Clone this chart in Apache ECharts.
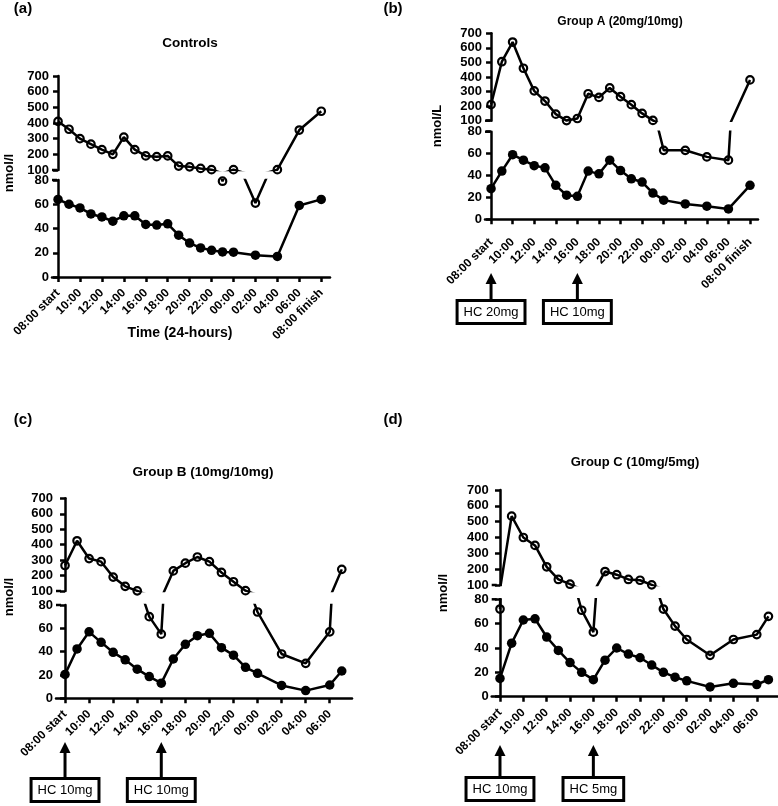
<!DOCTYPE html>
<html><head><meta charset="utf-8">
<script src="https://cdn.jsdelivr.net/npm/echarts@6/dist/echarts.min.js"></script>
<style>html,body{margin:0;padding:0;background:#fff}#c{width:778px;height:806px}</style>
</head><body><div id="c"></div>
<script>
// ---- data ----
const hoursAB = [0,1,2,3,4,5,6,7,8,9,10,11,12,13,14,15,16,18,20,22,24];
const hoursCD = [0,1,2,3,4,5,6,7,8,9,10,11,12,13,14,15,16,18,20,22,23];
const ticksAB = [0,2,4,6,8,10,12,14,16,18,20,22,24];
const ticksCD = [0,2,4,6,8,10,12,14,16,18,20,22];

const controlsOpen   = [410,360,300,265,230,200,310,230,190,185,190,125,120,110,102,79,102,61,102,355,475];
const controlsFilled = [64,60,57,52,49.5,46,50.5,50.5,43.3,42.8,43.9,34.5,28,24,22,20.7,20.5,18,17,59,64];
const groupAOpen     = [210,505,640,460,305,235,145,101,115,285,260,325,265,210,150,102,63,63,57,54,380];
const groupAFilled   = [28,44,59,54,49,47,31,22,21,44,41.5,54,44.5,37,34,24,17.5,14,12,9.5,31];
const groupBOpen     = [265,425,310,290,190,130,101,70,55,230,280,320,290,220,160,102,74,38,30,57,240];
const groupBFilled   = [20.5,42.3,57,48,39.4,33,25,18.6,13,33.7,46.3,53.7,55.7,43.4,37,26.6,21.4,11,6.6,11.4,23.4];
const groupCOpen     = [72,535,400,350,215,135,105,71,53,185,165,135,130,101,72,58,47,34,47,51,66];
const groupCFilled   = [15,44,63,64,49,38,28,20,14,30,40,35,32,26,20,16,13,8,11,10,14];

const titles = ['Controls','Group A (20mg/10mg)','Group B (10mg/10mg)','Group C (10mg/5mg)'];
const panelLabels = ['(a)','(b)','(c)','(d)'];
const yNames = ['nmol/l','nmol/L','nmol/l','nmol/l'];
const xName = 'Time (24-hours)';
const doseHoursA = [0, 8], doseLabelsA = ['HC 20mg','HC 10mg'];
const doseHoursB = [0, 8], doseLabelsB = ['HC 10mg','HC 10mg'];
const doseHoursC = [0, 8], doseLabelsC = ['HC 10mg','HC 5mg'];
const upperRange = [100, 700, 100];
const lowerRange = [0, 80, 20];

// ---- layout (pixels) ----
const FONT = '"Liberation Sans", Arial, Helvetica, sans-serif';
const panels = [
  {hours:hoursAB, ticks:ticksAB, open:controlsOpen, filled:controlsFilled,
   left:52, right:330, upTop:76, upBot:170, loTop:180, loBot:277, xmin:-0.55, xmax:24.8, margin:14,
   title:[190,43,13.5], label:[23,9], yname:[9,173], doses:null},
  {hours:hoursAB, ticks:ticksAB, open:groupAOpen, filled:groupAFilled,
   left:485, right:758, upTop:33.3, upBot:120.7, loTop:131.7, loBot:219.3, xmin:-0.56, xmax:24.74, margin:21,
   title:[620,22,12], label:[393,9], yname:[437,126], doses:[doseHoursA, doseLabelsA, 273, 302]},
  {hours:hoursCD, ticks:ticksCD, open:groupBOpen, filled:groupBFilled,
   left:56, right:352, upTop:498.3, upBot:591, loTop:605, loBot:698.3, xmin:-0.75, xmax:23.85, margin:14,
   title:[203,472,13.5], label:[23,420], yname:[9,597], doses:[doseHoursB, doseLabelsB, 742, 780]},
  {hours:hoursCD, ticks:ticksCD, open:groupCOpen, filled:groupCFilled,
   left:491.7, right:778, upTop:490, upBot:585, loTop:599.3, loBot:696.7, xmin:-0.71, xmax:23.82, margin:14,
   title:[635,462,13], label:[393,420], yname:[443,593], doses:[doseHoursC, doseLabelsC, 745, 779]}
];

function hourLabel(h){
  if (h === 0) return '08:00 start';
  if (h === 24) return '08:00 finish';
  const t = (8 + h) % 24;
  return (t < 10 ? '0' : '') + t + ':00';
}

const axLine = {show:true, lineStyle:{color:'#000', width:2.5}};
const axTick = {show:true, length:5, lineStyle:{color:'#000', width:2.5}};
const yLab = {margin:3, color:'#000', fontFamily:FONT, fontWeight:'bold', fontSize:13};
const grids = [], xAxes = [], yAxes = [], series = [];

panels.forEach((p, i) => {
  const w = p.right - p.left;
  grids.push({left:p.left, top:p.upTop, width:w, height:p.upBot - p.upTop});
  grids.push({left:p.left, top:p.loTop, width:w, height:p.loBot - p.loTop});
  xAxes.push({type:'value', gridIndex:2*i, min:p.xmin, max:p.xmax, show:false});
  xAxes.push({type:'value', gridIndex:2*i+1, min:p.xmin, max:p.xmax,
    axisLine:axLine, splitLine:{show:false},
    axisTick:Object.assign({customValues:p.ticks}, axTick),
    axisLabel:{customValues:p.ticks, rotate:45, margin:p.margin, color:'#000',
      fontFamily:FONT, fontWeight:'bold', fontSize:12, formatter:hourLabel}
  });
  yAxes.push({type:'value', gridIndex:2*i, min:upperRange[0], max:upperRange[1], interval:upperRange[2],
    axisLine:axLine, axisTick:axTick, splitLine:{show:false}, axisLabel:yLab});
  yAxes.push({type:'value', gridIndex:2*i+1, min:lowerRange[0], max:lowerRange[1], interval:lowerRange[2],
    axisLine:axLine, axisTick:axTick, splitLine:{show:false}, axisLabel:yLab});
  [2*i, 2*i+1].forEach(g => {
    series.push({type:'line', xAxisIndex:g, yAxisIndex:g, clip:true, animation:false, silent:true,
      data:p.hours.map((h,k)=>[h, p.open[k]]), symbol:'circle', symbolSize:7.5, showSymbol:true,
      lineStyle:{color:'#000', width:2.5},
      itemStyle:{color:'rgba(255,255,255,0)', borderColor:'#000', borderWidth:2.2},
      emphasis:{disabled:true}, z:3});
    series.push({type:'line', xAxisIndex:g, yAxisIndex:g, clip:true, animation:false, silent:true,
      data:p.hours.map((h,k)=>[h, p.filled[k]]), symbol:'circle', symbolSize:9.5, showSymbol:true,
      lineStyle:{color:'#000', width:2.5},
      itemStyle:{color:'#000'}, emphasis:{disabled:true}, z:3});
  });
});

const chart = echarts.init(document.getElementById('c'), null, {renderer:'canvas'});
chart.setOption({animation:false, backgroundColor:'#fff', grid:grids, xAxis:xAxes, yAxis:yAxes, series:series});

// ---- text and annotations ----
const g = [];
panels.forEach((p, i) => {
  g.push({type:'text', x:p.title[0], y:p.title[1], style:{text:titles[i], fill:'#000',
    font:'bold ' + p.title[2] + 'px ' + FONT, textAlign:'center', textVerticalAlign:'middle'}});
  g.push({type:'text', x:p.label[0], y:p.label[1], style:{text:panelLabels[i], fill:'#000',
    font:'bold 15px ' + FONT, textAlign:'center', textVerticalAlign:'middle'}});
  g.push({type:'text', x:p.yname[0], y:p.yname[1], rotation:Math.PI/2, style:{text:yNames[i], fill:'#000',
    font:'bold 13px ' + FONT, textAlign:'center', textVerticalAlign:'middle'}});
  // break marks: small nubs to the right of the axis at the two broken ends
  const yUp = chart.convertToPixel({yAxisIndex:2*i}, upperRange[0]);
  const yLo = chart.convertToPixel({yAxisIndex:2*i+1}, lowerRange[1]);
  [yUp, yLo].forEach(yy => g.push({type:'line', shape:{x1:p.left, y1:yy, x2:p.left+5, y2:yy},
    style:{stroke:'#000', lineWidth:2.5}}));
  if (p.doses) {
    const [hrs, labs, tipY, boxTop] = p.doses;
    hrs.forEach((h, k) => {
      const ax = chart.convertToPixel({xAxisIndex:2*i+1}, h);
      g.push({type:'line', shape:{x1:ax, y1:boxTop, x2:ax, y2:tipY+10}, style:{stroke:'#000', lineWidth:3}});
      g.push({type:'polygon', shape:{points:[[ax-5.5, tipY+11],[ax+5.5, tipY+11],[ax, tipY]]}, style:{fill:'#000'}});
      g.push({type:'text', x:ax, y:boxTop, style:{text:labs[k], fill:'#000', font:'13px ' + FONT,
        textAlign:'center', textVerticalAlign:'top', backgroundColor:'#fff', borderColor:'#000',
        borderWidth:3, padding:[4,5,3,5]}});
    });
  }
});
g.push({type:'text', x:180, y:333, style:{text:xName, fill:'#000', font:'bold 14px ' + FONT,
  textAlign:'center', textVerticalAlign:'middle'}});
chart.setOption({graphic:g});
</script>
</body></html>
